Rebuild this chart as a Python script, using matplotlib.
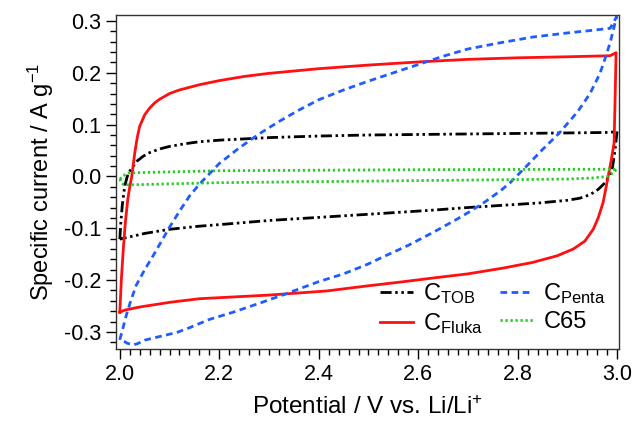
import matplotlib
matplotlib.use('Agg')
from matplotlib import pyplot as plt
from matplotlib.ticker import MultipleLocator

plt.rcParams['font.family'] = ['Liberation Sans', 'DejaVu Sans']
plt.rcParams['mathtext.fontset'] = 'custom'
plt.rcParams['mathtext.rm'] = 'Liberation Sans'
plt.rcParams['mathtext.it'] = 'Liberation Sans:italic'

# C_TOB (black, dash-dot-dot): forward then reverse scan
tob_x = [2.0, 2.002, 2.005, 2.01, 2.015, 2.02, 2.027, 2.035, 2.047, 2.06, 2.08, 2.1, 2.13, 2.16, 2.2, 2.3, 2.4,
         2.5, 2.6, 2.7, 2.8, 2.9, 2.986, 3.0,
         2.998, 2.996, 2.993, 2.99, 2.983, 2.976, 2.962, 2.946, 2.925, 2.9, 2.845, 2.765, 2.7, 2.63, 2.5, 2.4,
         2.3, 2.2, 2.16, 2.1, 2.05, 2.0]
tob_y = [-0.121, -0.09, -0.055, -0.018, 0.0, 0.01, 0.02, 0.03, 0.039, 0.046, 0.053, 0.058, 0.063, 0.067, 0.07, 0.075, 0.078,
         0.08, 0.081, 0.082, 0.083, 0.084, 0.085, 0.087,
         0.07, 0.052, 0.032, 0.013, 0.0, -0.012, -0.025, -0.035, -0.042, -0.046, -0.051, -0.056, -0.06, -0.065, -0.073, -0.079,
         -0.085, -0.093, -0.096, -0.102, -0.11, -0.121]

# C_Fluka (red, solid)
fluka_x = [2.0, 2.003, 2.007, 2.011, 2.016, 2.02, 2.024, 2.03, 2.035, 2.04, 2.05, 2.06, 2.07, 2.08, 2.1, 2.12, 2.16,
           2.2, 2.25, 2.3, 2.4, 2.5, 2.6, 2.7, 2.8, 2.9, 2.986,
           2.998, 2.996, 2.994, 2.988, 2.982, 2.972, 2.962, 2.952, 2.935, 2.912, 2.88, 2.83, 2.77, 2.7, 2.63,
           2.563, 2.5, 2.416, 2.3, 2.2, 2.16, 2.1, 2.04, 2.01, 2.0]
fluka_y = [-0.262, -0.2, -0.14, -0.09, -0.044, -0.02, 0.0, 0.045, 0.075, 0.097, 0.119, 0.132, 0.142, 0.149, 0.16, 0.167, 0.177,
           0.185, 0.193, 0.199, 0.208, 0.215, 0.221, 0.226, 0.229, 0.231, 0.233,
           0.239, 0.15, 0.065, 0.03, 0.0, -0.05, -0.08, -0.102, -0.125, -0.14, -0.153, -0.166, -0.177, -0.188, -0.196,
           -0.204, -0.211, -0.221, -0.229, -0.234, -0.236, -0.243, -0.252, -0.258, -0.262]

# C_Penta (blue, dashed)
penta_x = [2.0, 2.007, 2.013, 2.022, 2.033, 2.05, 2.067, 2.085, 2.1, 2.12, 2.14, 2.16, 2.18, 2.2, 2.24, 2.28, 2.32,
           2.36, 2.4, 2.45, 2.5, 2.55, 2.6, 2.65, 2.7, 2.765, 2.83, 2.9, 2.95, 2.986, 2.999,
           2.993, 2.986, 2.976, 2.966, 2.956, 2.946, 2.933, 2.919, 2.9, 2.885, 2.865, 2.85, 2.818, 2.785, 2.765,
           2.73, 2.7, 2.677, 2.63, 2.58, 2.53, 2.497, 2.45, 2.4, 2.33, 2.28, 2.228, 2.18, 2.14, 2.115, 2.08,
           2.05, 2.035, 2.027, 2.015, 2.0]
penta_y = [-0.315, -0.29, -0.268, -0.24, -0.21, -0.18, -0.153, -0.123, -0.098, -0.067, -0.038, -0.015, 0.005, 0.025, 0.055, 0.082, 0.106,
           0.128, 0.148, 0.167, 0.184, 0.2, 0.216, 0.232, 0.246, 0.258, 0.269, 0.277, 0.282, 0.286, 0.308,
           0.285, 0.258, 0.228, 0.2, 0.18, 0.161, 0.142, 0.123, 0.102, 0.085, 0.066, 0.052, 0.02, -0.012, -0.028,
           -0.052, -0.07, -0.083, -0.108, -0.133, -0.155, -0.17, -0.188, -0.203, -0.228, -0.245, -0.262, -0.276, -0.292, -0.301, -0.309,
           -0.316, -0.323, -0.325, -0.322, -0.313]

# C65 (green, dotted)
c65_x = [2.0, 2.01, 2.02, 2.2, 2.6, 3.0, 2.99, 2.98, 2.95, 2.9, 2.6, 2.2, 2.03, 2.008, 2.003, 2.0]
c65_y = [-0.005, 0.003, 0.007, 0.011, 0.013, 0.014, 0.006, 0.0, -0.003, -0.005, -0.008, -0.012, -0.016, -0.016, -0.012, -0.005]

fig = plt.figure(figsize=(6.33, 4.23), dpi=100)
ax = fig.add_axes([0.183, 0.175, 0.795, 0.79])

lw = 2.0
ax.plot(tob_x, tob_y, color='black', lw=lw, dashes=(4, 1.3, 0.9, 1.3, 0.9, 1.3), label=r'C$_{\mathrm{TOB}}$')
ax.plot(fluka_x, fluka_y, color='#ff1010', lw=lw, label=r'C$_{\mathrm{Fluka}}$')
ax.plot(penta_x, penta_y, color='#1f5cff', lw=lw, dashes=(2.4, 1.6), label=r'C$_{\mathrm{Penta}}$')
ax.plot(c65_x, c65_y, color='#22cc22', lw=lw, dashes=(0.8, 1.0), label='C65')

ax.set_xlim(1.992, 3.004)
ax.set_ylim(-0.333, 0.312)
ax.xaxis.set_major_locator(MultipleLocator(0.2))
ax.xaxis.set_minor_locator(MultipleLocator(0.02))
ax.yaxis.set_major_locator(MultipleLocator(0.1))
ax.yaxis.set_minor_locator(MultipleLocator(0.02))
ax.xaxis.set_major_formatter(lambda v, p: f'{v:.1f}')
ax.yaxis.set_major_formatter(lambda v, p: f'{v:.1f}')
ax.tick_params(which='major', direction='out', length=7, width=1, labelsize=15.5, colors='black')
ax.tick_params(which='minor', direction='out', length=4, width=1)
for s in ax.spines.values():
    s.set_linewidth(1)
    s.set_color('#333333')

ax.set_xlabel(r'Potential / V vs. Li/Li$^{+}$', fontsize=17.5, labelpad=8)
ax.set_ylabel(r'Specific current / A g$^{-1}$', fontsize=17, labelpad=6)

ax.legend(ncol=2, frameon=False, fontsize=17, loc='lower right', handlelength=1.4,
          handletextpad=0.45, columnspacing=0.7, labelspacing=0.2, borderaxespad=0.15)

plt.savefig('out.png', dpi=100)
